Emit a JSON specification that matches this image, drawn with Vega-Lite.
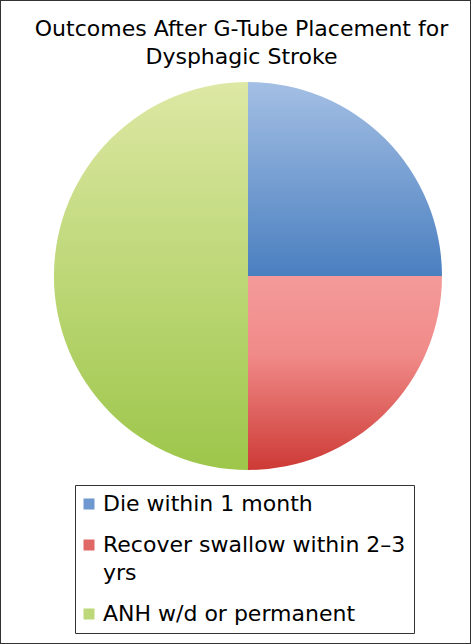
{
  "$schema": "https://vega.github.io/schema/vega-lite/v6.json",
  "width": 471,
  "height": 644,
  "padding": 0,
  "autosize": {"type": "none"},
  "background": "white",
  "config": {
    "view": {"stroke": "#333333", "strokeWidth": 2},
    "font": "DejaVu Sans"
  },
  "title": {
    "text": ["Outcomes After G-Tube Placement for", "Dysphagic Stroke"],
    "orient": "top",
    "anchor": "middle",
    "frame": "group",
    "font": "DejaVu Sans",
    "fontSize": 22,
    "fontWeight": "normal",
    "color": "#000000",
    "lineHeight": 28,
    "baseline": "top",
    "offset": 0,
    "dy": 69,
    "dx": 6
  },
  "data": {
    "values": [
      {"outcome": "Die within 1 month", "share": 25, "rank": 1},
      {"outcome": "Recover swallow within 2–3 yrs", "share": 25, "rank": 2},
      {"outcome": "ANH w/d or permanent", "share": 50, "rank": 3}
    ]
  },
  "layer": [
    {
      "mark": {"type": "arc", "outerRadius": 194, "xOffset": 12.5, "yOffset": -46},
      "encoding": {
        "theta": {"field": "share", "type": "quantitative", "stack": true},
        "order": {"field": "rank", "type": "ordinal"},
        "color": {
          "field": "outcome",
          "type": "nominal",
          "scale": {
            "domain": ["Die within 1 month", "Recover swallow within 2–3 yrs", "ANH w/d or permanent"],
            "range": ["#6f98d0", "#e06866", "#bcd878"]
          },
          "legend": {
            "title": null,
            "orient": "none",
            "legendX": 75,
            "legendY": 485,
            "strokeColor": "#333333",
            "padding": 8,
            "symbolType": "square",
            "symbolSize": 121,
            "symbolStrokeWidth": 0,
            "symbolOffset": -5,
            "labelFont": "DejaVu Sans",
            "labelFontSize": 22,
            "labelColor": "#000000",
            "labelLimit": 400,
            "rowPadding": 19,
            "labelOffset": 3,
            "labelExpr": "datum.label === 'Recover swallow within 2–3 yrs' ? ['Recover swallow within 2–3', 'yrs'] : datum.label",
            "encode": {"labels": {"update": {"lineHeight": {"value": 28}}}}
          },
          "condition": [
            {"test": "datum.outcome === 'Die within 1 month'", "value": {"gradient": "linear", "x1": 0, "y1": 0, "x2": 0, "y2": 1, "stops": [{"offset": 0, "color": "#a4bfe4"}, {"offset": 1, "color": "#4a7fc0"}]}},
            {"test": "datum.outcome === 'Recover swallow within 2–3 yrs'", "value": {"gradient": "linear", "x1": 0, "y1": 0, "x2": 0, "y2": 1, "stops": [{"offset": 0, "color": "#f49a9a"}, {"offset": 0.4, "color": "#f08b89"}, {"offset": 1, "color": "#cd3a35"}]}},
            {"test": "datum.outcome === 'ANH w/d or permanent'", "value": {"gradient": "linear", "x1": 0, "y1": 0, "x2": 0, "y2": 1, "stops": [{"offset": 0, "color": "#dde8a4"}, {"offset": 1, "color": "#9dc64a"}]}}
          ]
        }
      }
    },
    {
      "data": {"values": []},
      "mark": "point",
      "encoding": {
        "x": {"field": "u", "type": "quantitative", "axis": null},
        "y": {"field": "v", "type": "quantitative", "axis": null}
      }
    }
  ]
}
